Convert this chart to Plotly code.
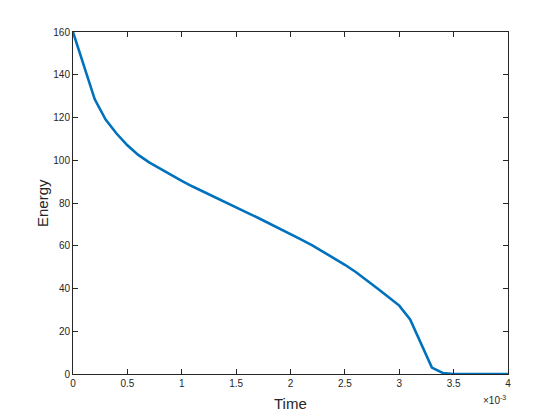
import plotly.graph_objects as go

# time in seconds, energy values
time_ms = [0.0, 0.1, 0.2, 0.3, 0.4, 0.5, 0.6, 0.7, 0.8, 0.9,
           1.0, 1.1, 1.2, 1.3, 1.4, 1.5, 1.6, 1.7, 1.8, 1.9,
           2.0, 2.1, 2.2, 2.3, 2.4, 2.5, 2.6, 2.7, 2.8, 2.9,
           3.0, 3.1, 3.2, 3.3, 3.4, 3.5, 3.6, 3.7, 3.8, 3.9, 4.0]
energy = [160, 144, 128.5, 119, 112.5, 107, 102.5, 99, 96, 93,
          90.3, 87.7, 85.2, 82.7, 80.3, 77.9, 75.5, 73.1, 70.6, 68.1,
          65.5, 62.9, 60.2, 57.3, 54.3, 51.1, 47.7, 44, 40, 36,
          32, 25.5, 14, 3, 0.5, 0, 0, 0, 0, 0, 0]
time_s = [t * 1e-3 for t in time_ms]

x_ticks = [0, 0.5, 1, 1.5, 2, 2.5, 3, 3.5, 4]
x_tick_labels = ['0', '0.5', '1', '1.5', '2', '2.5', '3', '3.5', '4']
y_ticks = [0, 20, 40, 60, 80, 100, 120, 140, 160]

AXIS_COLOR = '#262626'
FONT = 'Liberation Sans, Arial, Helvetica, sans-serif'

fig = go.Figure()
fig.add_trace(go.Scatter(
    x=time_s, y=energy, mode='lines',
    line=dict(color='#0072BD', width=2.6),
    showlegend=False,
))

axis_common = dict(
    showgrid=False, zeroline=False, showline=True, mirror='ticks',
    linecolor=AXIS_COLOR, linewidth=1,
    ticks='inside', ticklen=5, tickcolor=AXIS_COLOR,
    tickfont=dict(family=FONT, size=10, color=AXIS_COLOR),
    automargin=False,
)

# the page body adds an 8px offset, so the margins are shifted to compensate
fig.update_layout(
    width=560, height=420,
    margin=dict(l=65, r=60, t=24, b=54),
    paper_bgcolor='white', plot_bgcolor='white',
    font=dict(family=FONT, color=AXIS_COLOR),
    xaxis=dict(
        range=[0, 4e-3],
        tickvals=[v * 1e-3 for v in x_ticks], ticktext=x_tick_labels,
        **axis_common,
    ),
    yaxis=dict(
        range=[0, 160], tickvals=y_ticks,
        **axis_common,
    ),
)

# axis titles placed as annotations to keep the plot box fixed
fig.add_annotation(
    x=0.5, y=0, xref='paper', yref='paper',
    xanchor='center', yanchor='middle', yshift=-29,
    text='Time', showarrow=False,
    font=dict(family=FONT, size=15, color=AXIS_COLOR),
)
fig.add_annotation(
    x=0, y=0.5, xref='paper', yref='paper',
    xanchor='center', yanchor='middle', xshift=-31,
    text='Energy', textangle=-90, showarrow=False,
    font=dict(family=FONT, size=15, color=AXIS_COLOR),
)

# MATLAB-style exponent label
fig.add_annotation(
    x=1, y=0, xref='paper', yref='paper',
    xanchor='right', yanchor='top', yshift=-18,
    text='\u00d710<sup>-3</sup>', showarrow=False,
    font=dict(family=FONT, size=10, color=AXIS_COLOR),
)

fig.write_html("out.html")
